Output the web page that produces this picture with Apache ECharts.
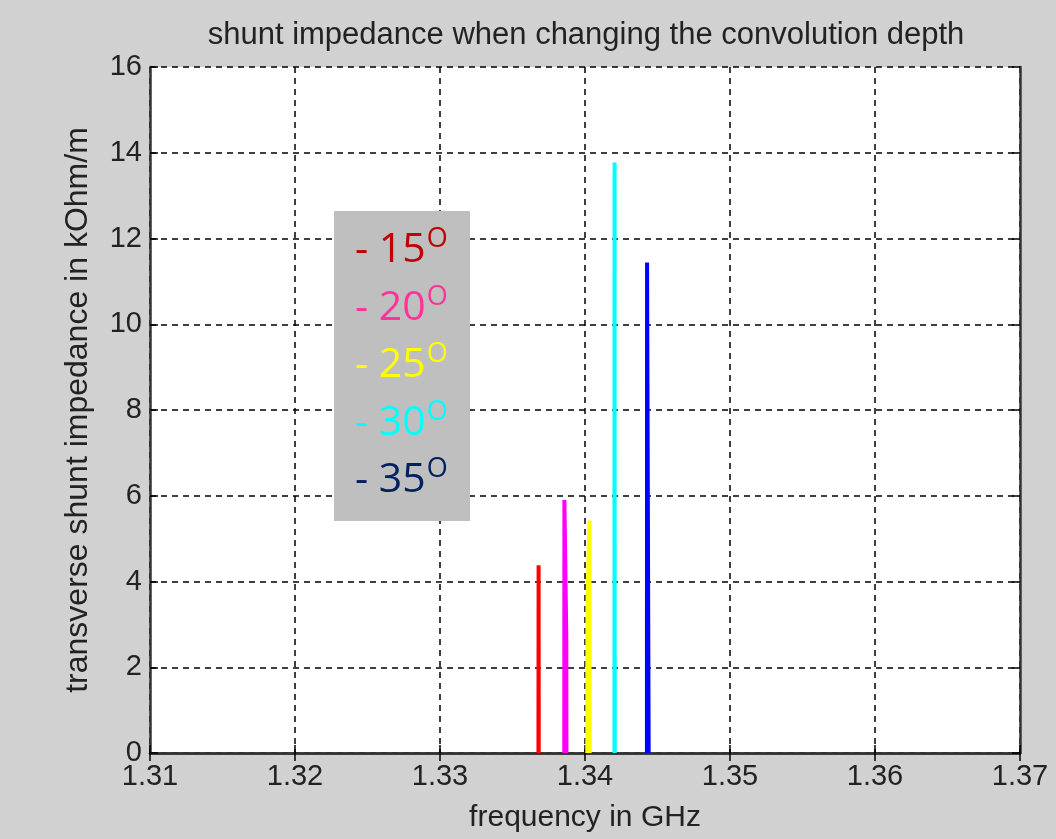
<!DOCTYPE html>
<html>
<head>
<meta charset="utf-8">
<script src="https://cdn.jsdelivr.net/npm/echarts@6/dist/echarts.min.js"></script>
<style>
  html, body { margin: 0; padding: 0; background: #d1d1d1; }
  #chart { width: 1056px; height: 839px; }
</style>
</head>
<body>
<div id="chart"></div>
<script>
// peaks (frequency in GHz, impedance in kOhm/m)
const freq15 = [1.33679, 1.33680, 1.33681];
const imp15 = [0, 4.38, 0];
const freq20 = [1.33857, 1.33858, 1.33871, 1.33872];
const imp20 = [0, 5.90, 2.73, 0];
const freq25 = [1.34016, 1.34017, 1.34031, 1.34032];
const imp25 = [0, 3.45, 5.42, 0];
const freq30 = [1.34203, 1.34204, 1.34205];
const imp30 = [0, 13.77, 0];
const freq35 = [1.34427, 1.34428, 1.34438, 1.34439];
const imp35 = [0, 11.44, 1.17, 0];

const xTicks = [1.31, 1.32, 1.33, 1.34, 1.35, 1.36, 1.37];
const yTicks = [0, 2, 4, 6, 8, 10, 12, 14, 16];

const lineColors = ['#ff0000', '#ff00ff', '#ffff00', '#00ffff', '#0000ff'];
const legendLabels = ['15', '20', '25', '30', '35'];
const legendColors = ['#c00000', '#ff3399', '#ffff00', '#00ffff', '#002060'];

const font = "'Liberation Sans', Arial, sans-serif";
const legendFont = "'Open Sans', 'Noto Sans', sans-serif";

function pairs(xs, ys) {
  return xs.map((x, i) => [x, ys[i]]);
}

const chart = echarts.init(document.getElementById('chart'));

const allFreq = [freq15, freq20, freq25, freq30, freq35];
const allImp = [imp15, imp20, imp25, imp30, imp35];

const series = allFreq.map((f, i) => ({
  name: legendLabels[i],
  type: 'line',
  data: pairs(f, allImp[i]),
  showSymbol: false,
  lineStyle: { color: lineColors[i], width: 4 },
  z: 5
}));

const gridLine = { show: true, lineStyle: { color: '#000', width: 1.5, type: [6, 5] } };
const frame = { show: true, lineStyle: { color: '#333', width: 2.5 } };
const ticksIn = { show: true, inside: true, length: 8, lineStyle: { color: '#000', width: 1.5 } };

// legend box: grey rect plus one text per row
const legendItems = legendLabels.map((lab, i) => ({
  type: 'text',
  left: 355,
  top: 221 + i * 57.5,
  z: 11,
  style: {
    text: '{a|- ' + lab + '}{s|O}',
    rich: {
      a: { fontSize: 41, fontFamily: legendFont, fill: legendColors[i], lineHeight: 50, verticalAlign: 'bottom' },
      s: { fontSize: 27, fontFamily: legendFont, fill: legendColors[i], lineHeight: 30, verticalAlign: 'top', padding: [5, 0, 0, 1] }
    }
  }
}));

const option = {
  backgroundColor: '#d1d1d1',
  animation: false,
  title: {
    text: 'shunt impedance when changing the convolution depth',
    left: 581,
    textAlign: 'center',
    top: 15,
    textStyle: { fontFamily: font, fontSize: 31, fontWeight: 'normal', color: '#222' }
  },
  grid: {
    left: 150, right: 36, top: 67, bottom: 86,
    show: true, backgroundColor: '#fff', borderWidth: 0
  },
  xAxis: [
    {
      type: 'value', min: xTicks[0], max: xTicks[xTicks.length - 1], interval: 0.01,
      position: 'bottom',
      name: 'frequency in GHz', nameLocation: 'middle', nameGap: 50,
      nameTextStyle: { fontFamily: font, fontSize: 30, color: '#222' },
      axisLine: frame, axisTick: ticksIn, splitLine: gridLine,
      axisLabel: { fontFamily: font, fontSize: 29, color: '#222', margin: 9,
        formatter: v => v.toFixed(2) }
    },
    {
      type: 'value', min: xTicks[0], max: xTicks[xTicks.length - 1], interval: 0.01,
      position: 'top',
      axisLine: frame, axisTick: ticksIn, splitLine: { show: false },
      axisLabel: { show: false }
    }
  ],
  yAxis: [
    {
      type: 'value', min: yTicks[0], max: yTicks[yTicks.length - 1], interval: 2,
      position: 'left',
      name: 'transverse shunt impedance in kOhm/m', nameLocation: 'middle', nameGap: 56,
      nameTextStyle: { fontFamily: font, fontSize: 32, color: '#222' },
      axisLine: frame, axisTick: ticksIn, splitLine: gridLine,
      axisLabel: { fontFamily: font, fontSize: 29, color: '#222', margin: 8 }
    },
    {
      type: 'value', min: yTicks[0], max: yTicks[yTicks.length - 1], interval: 2,
      position: 'right',
      axisLine: frame, axisTick: ticksIn, splitLine: { show: false },
      axisLabel: { show: false }
    }
  ],
  series: series,
  graphic: [
    {
      type: 'rect', left: 334, top: 211, z: 10,
      shape: { width: 136, height: 310 },
      style: { fill: '#bfbfbf' }
    }
  ].concat(legendItems)
};

chart.setOption(option);
</script>
</body>
</html>
